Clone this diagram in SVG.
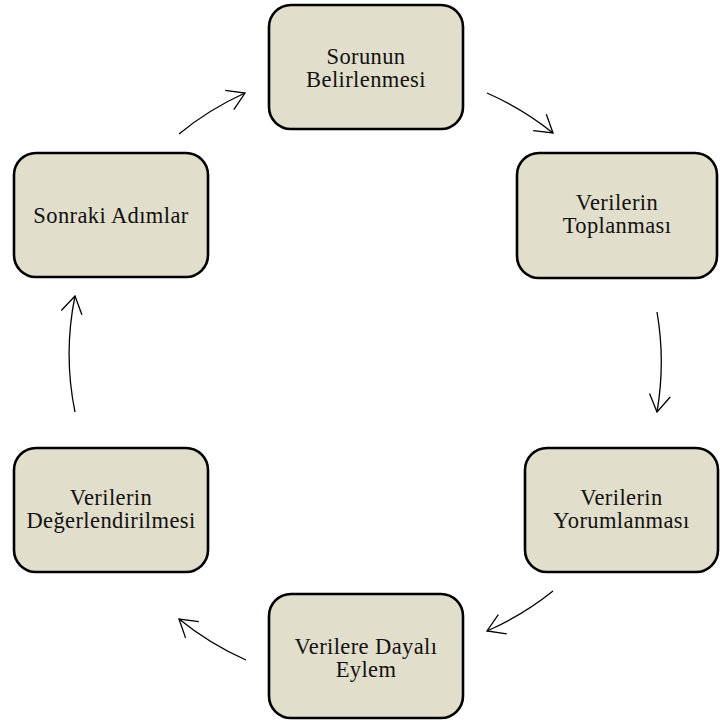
<svg xmlns="http://www.w3.org/2000/svg" width="720" height="724" viewBox="0 0 720 724">
  <style>
    .box { fill: #e1decb; stroke: #000; stroke-width: 2.6; }
    .lbl { font-family: "Liberation Serif", "Times New Roman", serif; font-size: 22.5px; letter-spacing: 0.4px; fill: #111; text-anchor: middle; }
    .arc { fill: none; stroke: #000; stroke-width: 1.3; marker-end: url(#head); }
  </style>
  <defs>
    <marker id="head" markerUnits="userSpaceOnUse" markerWidth="24" markerHeight="24" refX="0" refY="0" viewBox="-22 -12 24 24" orient="auto" overflow="visible">
      <path d="M-17,-10.5 L0,0 L-17,10.5" fill="none" stroke="#000" stroke-width="1.3" stroke-linejoin="miter"/>
    </marker>
  </defs>
  <rect width="720" height="724" fill="#fff"/>

  <!-- curved cycle arrows -->
  <g id="connectors">
    <path class="arc" d="M487,93 A295,295 0 0 1 553,133"/>
    <path class="arc" d="M657,312 A295,295 0 0 1 657,412"/>
    <path class="arc" d="M553,591 A295,295 0 0 1 487,631"/>
    <path class="arc" d="M246,660 A295,295 0 0 1 179,619"/>
    <path class="arc" d="M75,412 A290,290 0 0 1 75,296"/>
    <path class="arc" d="M179,134 A295,295 0 0 1 245,93"/>
  </g>

  <g id="node-sorunun">
    <rect class="box" x="269" y="5" width="194" height="124" rx="22"/>
    <text class="lbl" x="366" y="64">Sorunun</text>
    <text class="lbl" x="366" y="87">Belirlenmesi</text>
  </g>

  <g id="node-toplanmasi">
    <rect class="box" x="517" y="153" width="200" height="125" rx="22"/>
    <text class="lbl" x="617" y="210">Verilerin</text>
    <text class="lbl" x="617" y="233">Toplanması</text>
  </g>

  <g id="node-yorumlanmasi">
    <rect class="box" x="525" y="448" width="193" height="124" rx="22"/>
    <text class="lbl" x="621.5" y="505">Verilerin</text>
    <text class="lbl" x="621.5" y="528">Yorumlanması</text>
  </g>

  <g id="node-eylem">
    <rect class="box" x="269" y="594" width="194" height="124" rx="22"/>
    <text class="lbl" x="366" y="654">Verilere Dayalı</text>
    <text class="lbl" x="366" y="677">Eylem</text>
  </g>

  <g id="node-degerlendirilmesi">
    <rect class="box" x="14" y="448" width="194" height="124" rx="22"/>
    <text class="lbl" x="111" y="505">Verilerin</text>
    <text class="lbl" x="111" y="528">Değerlendirilmesi</text>
  </g>

  <g id="node-sonraki">
    <rect class="box" x="14" y="153" width="194" height="124" rx="22"/>
    <text class="lbl" x="111" y="223">Sonraki Adımlar</text>
  </g>
</svg>
